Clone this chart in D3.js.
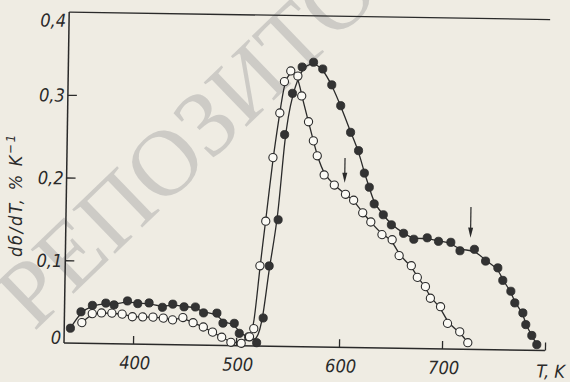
<!DOCTYPE html>
<html>
<head>
<meta charset="utf-8">
<script src="https://cdn.jsdelivr.net/npm/d3@7"></script>
<style>
  html, body { margin: 0; padding: 0; background: #efece3; }
  svg { display: block; }
  .lbl { font-family: "Liberation Sans Narrow", "DejaVu Sans Condensed", sans-serif; font-style: italic; fill: #2a2a2a; }
</style>
</head>
<body>
<svg id="chart" width="570" height="382"></svg>
<script>
// filled circles: T (K) and dσ/dT (% K^-1)
const tFilled = [339, 349, 360, 373, 381, 394, 404, 415, 428, 438, 449, 460, 468, 481, 487, 498, 503, 512, 520,
                 526, 531, 539, 544, 551, 560, 571, 580, 589, 598, 608, 616, 622, 627, 632, 641, 649,
                 661, 671, 684, 695, 707, 716, 730, 741, 753, 758, 766, 770, 778, 781, 787, 792];
const vFilled = [0.018, 0.038, 0.046, 0.049, 0.047, 0.052, 0.049, 0.050, 0.045, 0.049, 0.046, 0.046, 0.039, 0.039, 0.027, 0.027, 0.015, 0.011, 0.004,
                 0.034, 0.097, 0.153, 0.256, 0.306, 0.338, 0.344, 0.336, 0.317, 0.292, 0.260, 0.238, 0.211, 0.194, 0.174, 0.161, 0.149,
                 0.139, 0.132, 0.134, 0.130, 0.129, 0.119, 0.121, 0.107, 0.099, 0.084, 0.071, 0.057, 0.045, 0.031, 0.018, 0.007];

// open circles
const tOpen = [350, 360, 369, 379, 389, 399, 409, 419, 429, 438, 448, 458, 468, 477, 486, 495, 505, 513, 517,
               522, 527, 533, 539, 543, 549, 556, 560, 567, 572, 576, 583, 593, 604, 612, 621, 629,
               640, 650, 657, 669, 675, 683, 688, 698, 705, 717, 725];
const vOpen = [0.025, 0.036, 0.037, 0.037, 0.036, 0.033, 0.033, 0.033, 0.032, 0.030, 0.033, 0.027, 0.022, 0.016, 0.010, 0.004, 0.003, 0.011, 0.021,
               0.097, 0.151, 0.228, 0.282, 0.320, 0.333, 0.327, 0.303, 0.272, 0.249, 0.231, 0.208, 0.196, 0.185, 0.178, 0.163, 0.152,
               0.137, 0.131, 0.112, 0.100, 0.086, 0.075, 0.061, 0.051, 0.031, 0.021, 0.008];

const xTicks = [400, 500, 600, 700, 800];
const xTickLabels = ["400", "500", "600", "700", ""];
const yTicks = [0, 0.1, 0.2, 0.3, 0.4];
const yTickLabels = ["0", "0,1", "0,2", "0,3", "0,4"];

// arrows marking the transitions
const arrowT = [603, 726];
const arrowTop = [0.229, 0.172];
const arrowTip = [0.199, 0.135];

const ink = "#2a2a2a";
const svg = d3.select("#chart");

// repository watermark, behind the plot
svg.append("text").attr("transform", "translate(34,332) rotate(-44)")
  .attr("font-family", "Liberation Serif, serif").attr("font-size", 94)
  .attr("fill", "#a8a8a8").attr("fill-opacity", 0.48)
  .text("РЕПОЗИТО");

// the scan is tilted a little, so the whole plot is rotated around the origin
const g = svg.append("g").attr("transform", "translate(64,343) rotate(0.9)");

const x = d3.scaleLinear().domain([333, 800]).range([0, 481]);
const y = d3.scaleLinear().domain([0, 0.4]).range([0, -331]);

// axes, ticks point inward
g.append("g").call(d3.axisBottom(x).tickValues(xTicks).tickSize(-8).tickFormat(""))
  .call(a => a.select(".domain").attr("stroke", ink).attr("stroke-width", 1.5).attr("d", `M0,0H${x(800)}`))
  .call(a => a.selectAll(".tick line").attr("stroke", ink).attr("stroke-width", 1.3));
g.append("g").call(d3.axisLeft(y).tickValues([0.1, 0.2, 0.3]).tickSize(-9).tickFormat(""))
  .call(a => a.select(".domain").attr("stroke", ink).attr("stroke-width", 1.5).attr("d", `M0,0V${y(0.4)}`))
  .call(a => a.selectAll(".tick line").attr("stroke", ink).attr("stroke-width", 1.3));
g.append("line").attr("x1", 0).attr("x2", x(800)).attr("y1", y(0.4)).attr("y2", y(0.4))
  .attr("stroke", ink).attr("stroke-width", 1.3);

// tick labels
g.selectAll(".xl").data(xTicks).join("text").attr("class", "lbl")
  .attr("x", d => x(d) + 2).attr("y", 25).attr("text-anchor", "middle")
  .attr("font-size", 18).text((d, i) => xTickLabels[i]);
g.selectAll(".yl").data(yTicks).join("text").attr("class", "lbl")
  .attr("x", -3).attr("y", d => y(d) + (d === 0.4 ? 15 : d === 0 ? 1 : 7))
  .attr("text-anchor", "end").attr("font-size", 18).text((d, i) => yTickLabels[i]);

g.append("text").attr("class", "lbl").attr("x", x(800) + 6).attr("y", 27)
  .attr("text-anchor", "middle").attr("font-size", 18).text("T, K");

const yl = svg.append("text").attr("class", "lbl")
  .attr("transform", "translate(22,195) rotate(-90)")
  .attr("text-anchor", "middle").attr("font-size", 18).attr("letter-spacing", 1.8);
yl.append("tspan").text("dб/dT, % K");
yl.append("tspan").attr("dy", -7).attr("font-size", 13).text("−1");

// curves
const line = d3.line().x(d => x(d[0])).y(d => y(d[1])).curve(d3.curveBasis);
g.append("path").datum(d3.zip(tFilled, vFilled)).attr("d", line)
  .attr("fill", "none").attr("stroke", ink).attr("stroke-width", 1.3);
g.append("path").datum(d3.zip(tOpen, vOpen)).attr("d", line)
  .attr("fill", "none").attr("stroke", ink).attr("stroke-width", 1.3);

g.selectAll(".pf").data(d3.zip(tFilled, vFilled)).join("circle")
  .attr("cx", d => x(d[0])).attr("cy", d => y(d[1])).attr("r", 4.1)
  .attr("fill", "#333").attr("stroke", ink).attr("stroke-width", 0.8);
g.selectAll(".po").data(d3.zip(tOpen, vOpen)).join("circle")
  .attr("cx", d => x(d[0])).attr("cy", d => y(d[1])).attr("r", 4.1)
  .attr("fill", "#fbfaf5").attr("stroke", ink).attr("stroke-width", 1.1);

// arrows
arrowT.forEach((t, i) => {
  const ax = x(t), y0 = y(arrowTop[i]), y1 = y(arrowTip[i]);
  g.append("line").attr("x1", ax).attr("x2", ax).attr("y1", y0).attr("y2", y1 - 8)
    .attr("stroke", ink).attr("stroke-width", 1.2);
  g.append("path").attr("d", `M${ax - 2.5},${y1 - 10}L${ax + 2.5},${y1 - 10}L${ax},${y1}Z`).attr("fill", ink);
});
</script>
</body>
</html>
